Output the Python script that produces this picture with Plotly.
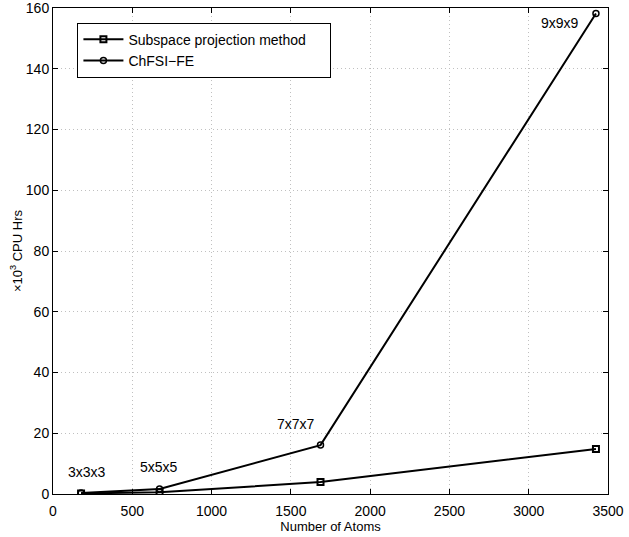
import plotly.graph_objects as go

atoms = [177, 672, 1687, 3424]
subspace = [0.2, 0.55, 3.95, 14.8]
chfsi = [0.3, 1.65, 16.1, 158.2]
labels = ["3x3x3", "5x5x5", "7x7x7", "9x9x9"]
label_x = [216, 670, 1530, 3200]
label_y = [7.3, 8.9, 23.0, 155.2]

FONT = "Liberation Sans, Arial, sans-serif"

fig = go.Figure()
fig.add_trace(go.Scatter(x=atoms, y=subspace, mode="lines+markers",
                         name="Subspace projection method" + "\u00a0" * 5,
                         line=dict(color="black", width=2),
                         marker=dict(symbol="square-open", size=6, color="black", line=dict(width=2))))
fig.add_trace(go.Scatter(x=atoms, y=chfsi, mode="lines+markers",
                         name="ChFSI\u2212FE",
                         line=dict(color="black", width=2),
                         marker=dict(symbol="circle-open", size=6, color="black", line=dict(width=1.5))))

for t, x, y in zip(labels, label_x, label_y):
    fig.add_annotation(x=x, y=y, text=t, showarrow=False,
                       font=dict(family=FONT, size=14, color="black"))

axis_common = dict(showline=True, linecolor="black", linewidth=1, mirror="ticks",
                   ticks="inside", ticklen=5, tickcolor="black",
                   showgrid=True, gridcolor="#c0c0c0", griddash="1px,3px", gridwidth=1,
                   zeroline=False, automargin=False, ticklabeloverflow="allow",
                   tickfont=dict(family=FONT, size=14, color="black"))

fig.update_xaxes(range=[0, 3500], dtick=500, tick0=0, ticklabelstandoff=4,
                 title=dict(text="Number of Atoms", font=dict(family=FONT, size=13, color="black"), standoff=4),
                 **axis_common)
fig.update_yaxes(range=[0, 160], dtick=20, tick0=0,
                 title=dict(text="\u00d710<sup>3</sup> CPU Hrs", font=dict(family=FONT, size=13, color="black"), standoff=0),
                 **axis_common)

fig.update_layout(width=629, height=537,
                  margin=dict(l=53, r=21, t=8, b=43, autoexpand=False),
                  paper_bgcolor="white", plot_bgcolor="white",
                  font=dict(family=FONT, size=14, color="black"),
                  legend=dict(x=0.044, y=0.97, xanchor="left", yanchor="top",
                              bgcolor="white", bordercolor="black", borderwidth=1,
                              font=dict(family=FONT, size=14, color="black"),
                              itemwidth=40),
                  showlegend=True)

fig.write_html("out.html", config={"displayModeBar": False},
               post_script="document.body.style.margin='0';document.body.style.overflow='hidden';")
